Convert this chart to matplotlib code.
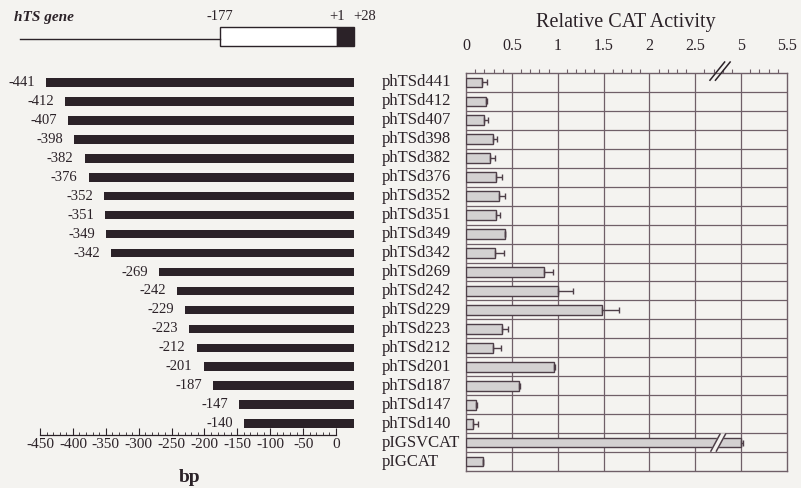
import numpy as np
import matplotlib
matplotlib.use('Agg')
import matplotlib.pyplot as plt
from matplotlib.ticker import MultipleLocator, FixedLocator
import matplotlib.transforms as mtrans

plt.rcParams['font.family'] = ['Liberation Serif', 'DejaVu Serif']
plt.rcParams['axes.unicode_minus'] = False

# deletion constructs (5' end in bp) and their CAT activity
starts   = [-441, -412, -407, -398, -382, -376, -352, -351, -349, -342,
            -269, -242, -229, -223, -212, -201, -187, -147, -140]
end_bp   = 28
names    = ['phTSd441', 'phTSd412', 'phTSd407', 'phTSd398', 'phTSd382',
            'phTSd376', 'phTSd352', 'phTSd351', 'phTSd349', 'phTSd342',
            'phTSd269', 'phTSd242', 'phTSd229', 'phTSd223', 'phTSd212',
            'phTSd201', 'phTSd187', 'phTSd147', 'phTSd140',
            'pIGSVCAT', 'pIGCAT']
activity = [0.17, 0.22, 0.20, 0.29, 0.26, 0.33, 0.36, 0.33, 0.42, 0.32,
            0.85, 1.00, 1.48, 0.39, 0.29, 0.96, 0.58, 0.105, 0.08,
            5.00, 0.19]
err      = [0.06, 0.01, 0.04, 0.05, 0.06, 0.06, 0.06, 0.04, 0.01, 0.09,
            0.10, 0.17, 0.19, 0.07, 0.09, 0.01, 0.01, 0.01, 0.05,
            0.02, 0.0]
tick_vals = ['0', '0.5', '1', '1.5', '2', '2.5', '5', '5.5']

# axis break: values >= 5 are drawn shifted down to 3.0
brk_lo, brk_hi, brk_pos = 2.75, 5.0, 3.0
def shown(v):
    return v if v <= brk_lo else brk_pos + (v - brk_hi)

bg   = '#f4f3f0'
ink  = '#2b2228'
grid = '#6f5f68'

W, H = 801, 488
fig = plt.figure(figsize=(W / 100, H / 100), dpi=100, facecolor=bg)

def px_axes(x0, y0, x1, y1):
    return fig.add_axes([x0 / W, 1 - y1 / H, (x1 - x0) / W, (y1 - y0) / H])

n = len(names)
rows = np.arange(n)

# ---- right: CAT activity ----
ax = px_axes(466, 73, 787, 471)
ax.set_facecolor(bg)
ax.set_xlim(0, 3.5)
ax.set_ylim(n - 0.5, -0.5)
shown_vals = [shown(v) for v in activity]
ax.barh(rows, shown_vals, height=0.52, color='#d3d1d1', edgecolor='#4e3f48',
        linewidth=1.0, zorder=3)
ax.errorbar(shown_vals, rows, xerr=[np.zeros(n), err], fmt='none',
            ecolor='#4e3f48', elinewidth=1.0, capsize=2.5, capthick=1.0, zorder=4)
for x in np.arange(0.5, 3.5, 0.5):
    ax.axvline(x, color=grid, lw=0.9, zorder=1)
for y in rows[:-1] + 0.5:
    ax.axhline(y, color=grid, lw=0.9, zorder=1)
for s in ax.spines.values():
    s.set_color(grid)
    s.set_linewidth(1.0)
ax.xaxis.tick_top()
ax.set_xticks(np.arange(0, 3.51, 0.5))
ax.set_xticklabels(tick_vals)
ax.xaxis.set_minor_locator(MultipleLocator(0.1))
ax.tick_params(axis='x', which='major', length=0, pad=14, labelsize=11.5,
               labelcolor=ink)
ax.tick_params(axis='x', which='minor', length=3, width=0.8, color=grid,
               direction='out')
ax.set_yticks([])
lab_tr = mtrans.blended_transform_factory(ax.transAxes, ax.transData)
for r, nm in zip(rows, names):
    ax.text(-0.262, r, nm, transform=lab_tr, ha='left', va='center',
            fontsize=12, color=ink)

# break marks on the top edge and on the long bar
for dx in (0.0, 0.06):
    ax.plot([2.66 + dx, 2.82 + dx], [-0.12, -1.08], color=ink, lw=1.1,
            clip_on=False, zorder=6)
row_sv = names.index('pIGSVCAT')
ax.fill([2.67, 2.73, 2.83, 2.77], [row_sv + 0.45, row_sv + 0.45,
        row_sv - 0.45, row_sv - 0.45], color=bg, zorder=5)
for dx in (0.0, 0.06):
    ax.plot([2.67 + dx, 2.77 + dx], [row_sv + 0.45, row_sv - 0.45],
            color='#4e3f48', lw=1.1, zorder=6)

fig.text(626 / W, 1 - 22 / H, 'Relative CAT Activity', ha='center',
         va='center', fontsize=14.5, color=ink)

# ---- left: deletion map ----
bx = px_axes(0, 73, 375, 471)
bx.set_facecolor('none')
px_per_bp = 296 / 450
bx.set_xlim(-450 - 40 / px_per_bp, (375 - 336) / px_per_bp)
bx.set_ylim(n - 0.5, -0.5)
nb = len(starts)
bx.barh(rows[:nb], [end_bp - s for s in starts], left=starts, height=0.45,
        color=ink, zorder=3)
for r, s in zip(rows[:nb], starts):
    bx.text(s - 17, r, str(s), ha='right', va='center', fontsize=10.5,
            color=ink)
for k in ('top', 'right', 'left'):
    bx.spines[k].set_visible(False)
bx.spines['bottom'].set_position(('data', 18.6))
bx.spines['bottom'].set_bounds(-450, 0)
bx.spines['bottom'].set_color(ink)
bx.spines['bottom'].set_linewidth(0.9)
bx.set_yticks([])
bx.set_xticks(np.arange(-450, 1, 50))
bx.xaxis.set_minor_locator(FixedLocator(np.arange(-450, 1, 10)))
bx.tick_params(axis='x', which='major', direction='in', length=5, width=0.8,
               color=ink, pad=2, labelsize=11, labelcolor=ink)
bx.tick_params(axis='x', which='minor', direction='in', length=2.5,
               width=0.6, color=ink)
fig.text(190 / W, 1 - 478 / H, 'bp', ha='center', va='center', fontsize=14,
         fontweight='bold', color=ink)

# ---- gene diagram on top ----
gx = px_axes(0, 0, 375, 60)
gx.set_xlim(bx.get_xlim())
gx.set_ylim(60, 0)
gx.axis('off')
gene_tss, gene_prom = 1, -177
gx.plot([-480, gene_prom], [39, 39], color=ink, lw=1.0)
gx.add_patch(plt.Rectangle((gene_prom, 27), gene_tss - gene_prom, 19,
                           facecolor='white', edgecolor=ink, lw=1.0))
gx.add_patch(plt.Rectangle((gene_tss, 27), end_bp - gene_tss, 19,
                           facecolor=ink, edgecolor=ink, lw=1.0))
gx.text(gene_prom, 17, '-177', ha='center', va='center', fontsize=10.5,
        color=ink)
gx.text(gene_tss, 17, '+1', ha='center', va='center', fontsize=10.5,
        color=ink)
gx.text(end_bp - 2, 17, '+28', ha='left', va='center', fontsize=10.5,
        color=ink)
fig.text(14 / W, 1 - 18 / H, 'hTS gene', ha='left', va='center',
         fontsize=11, fontweight='bold', fontstyle='italic', color=ink)

fig.savefig('out.png', dpi=100, facecolor=bg)
